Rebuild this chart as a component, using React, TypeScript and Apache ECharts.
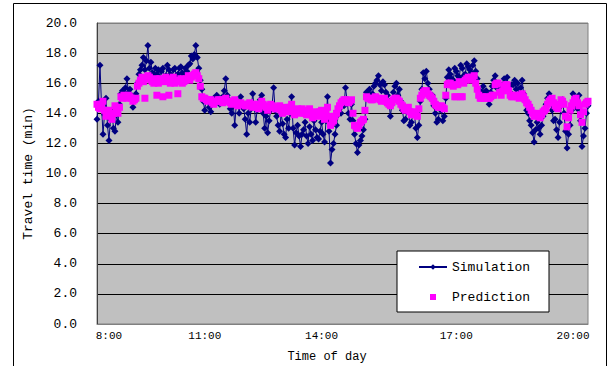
import React, { useEffect, useRef } from "react";
import * as echarts from "echarts";

const tickLabels = ["8:00", "11:00", "14:00", "17:00", "20:00"];
const tickIndex = [8, 72, 150, 240, 318];

const simulation = [
  13.6, 14.8, 17.2, 14.6, 12.6, 13.9, 15.0, 13.2, 12.2, 13.6, 14.2, 13.0, 12.8, 13.9, 13.4, 14.6, 15.3, 15.5, 15.4, 15.7,
  16.3, 15.4, 15.6, 15.2, 14.4, 14.9, 15.3, 16.0, 16.6, 16.9, 17.2, 17.7, 16.9, 17.5, 18.5, 17.0, 17.4, 16.7, 16.6, 17.0,
  16.6, 16.9, 16.2, 16.8, 17.0, 16.4, 16.5, 17.2, 16.9, 16.6, 16.3, 16.9, 17.0, 16.5, 16.6, 17.0, 17.1, 16.7, 16.5, 17.0,
  16.8, 17.2, 17.3, 17.8, 17.6, 17.9, 18.5, 17.7, 17.0, 16.2, 15.6, 14.8, 14.2, 15.0, 14.8, 14.4, 14.1, 14.6, 15.0, 14.8,
  15.2, 14.9, 14.6, 15.0, 15.1, 15.5, 16.3, 15.2, 14.9, 14.3, 14.0, 14.7, 13.2, 14.5, 14.8, 14.0, 15.1, 14.6, 14.3, 13.6,
  12.6, 14.0, 13.4, 14.3, 15.3, 14.5, 13.4, 14.2, 14.5, 14.9, 15.2, 14.0, 13.0, 13.8, 12.7, 13.5, 14.2, 14.6, 15.7, 14.2,
  13.8, 13.2, 12.8, 14.0, 13.3, 12.6, 12.4, 13.6, 13.0, 14.0, 15.1, 13.0, 11.9, 12.7, 13.2, 12.5, 11.8, 12.6, 12.9, 13.4,
  12.5, 12.0, 13.1, 12.6, 12.2, 13.5, 12.9, 12.4, 12.3, 12.8, 13.4, 12.6, 12.1, 13.5, 15.1, 12.8, 10.7, 11.6, 12.0, 12.6,
  13.2, 13.9, 14.3, 14.0, 14.8, 14.5, 15.7, 14.9, 14.0, 13.6, 14.6, 13.5, 12.6, 12.0, 11.4, 11.9, 12.2, 12.5, 12.9, 13.6,
  15.4, 15.0, 15.6, 15.2, 15.3, 15.8, 16.0, 16.2, 16.5, 15.9, 15.5, 16.1, 15.9, 15.4, 15.2, 14.8, 13.8, 14.6, 15.4, 15.8,
  16.0, 15.2, 15.6, 14.8, 14.2, 13.5, 13.6, 14.1, 14.3, 13.2, 13.4, 13.9, 14.0, 13.0, 12.4, 13.2, 14.8, 15.6, 16.7, 16.3,
  16.8, 16.0, 15.6, 15.0, 15.2, 14.5, 14.0, 13.4, 13.6, 14.4, 14.2, 13.5, 13.8, 15.0, 16.4, 16.9, 16.6, 16.3, 16.2, 17.0,
  16.8, 16.5, 16.4, 17.2, 17.0, 16.5, 16.6, 17.3, 17.1, 16.9, 16.7, 17.2, 17.5, 16.8, 16.3, 15.6, 15.2, 15.4, 15.8, 15.3,
  15.5, 15.0, 14.6, 15.4, 15.8, 16.2, 16.5, 15.7, 16.0, 15.4, 15.6, 15.9, 16.3, 15.8, 16.4, 15.6, 15.4, 15.9, 15.9, 16.2,
  15.6, 16.0, 15.2, 15.7, 16.2, 15.3, 14.8, 14.2, 14.0, 13.5, 13.2, 12.7, 12.1, 12.9, 13.4, 13.0, 12.6, 13.2, 13.8, 14.3,
  14.6, 15.0, 15.3, 14.7, 14.2, 13.5, 13.6, 12.9, 12.4, 13.4, 14.5, 14.9, 14.0, 12.8, 11.7, 12.6, 13.2, 14.2, 15.3, 14.6,
  14.8, 14.3, 15.2, 13.5, 11.8, 12.5, 13.0, 14.0, 14.5,
];

const prediction = [
  14.6, 14.4, 14.3, 14.6, 14.8, 14.2, 13.8, 14.0, 14.2, 13.9, 13.6, 14.0, 14.5, 14.3, 14.0, 14.4, 15.1, 15.0, 15.2, 15.1,
  15.0, 15.2, 15.1, 15.0, 14.8, 14.9, 15.0, 15.8, 16.0, 16.2, 16.4, 16.1, 15.0, 16.3, 16.5, 16.4, 16.2, 16.1, 16.0, 16.3,
  15.2, 16.0, 16.3, 16.2, 15.1, 16.1, 16.4, 16.3, 15.2, 16.0, 16.2, 16.4, 16.0, 16.1, 15.3, 16.2, 16.3, 16.0, 16.1, 16.2,
  16.3, 16.5, 16.2, 16.4, 16.5, 16.6, 16.7, 16.5, 16.3, 15.8, 15.1, 15.0, 15.0, 14.9, 14.8, 14.9, 14.9, 14.7, 14.6, 14.8,
  14.8, 14.9, 14.9, 14.8, 14.7, 14.9, 15.0, 14.8, 14.8, 14.7, 14.6, 14.8, 14.9, 14.7, 14.5, 14.6, 14.7, 14.6, 14.6, 14.5,
  14.5, 14.6, 14.7, 14.5, 14.4, 14.6, 14.6, 14.4, 14.3, 14.5, 14.8, 14.6, 14.5, 14.4, 14.2, 14.4, 14.6, 14.5, 14.4, 14.3,
  14.3, 14.4, 14.5, 14.2, 14.0, 14.3, 14.4, 14.2, 14.1, 14.4, 14.6, 14.2, 13.9, 14.1, 14.3, 14.1, 14.0, 14.3, 14.2, 14.0,
  13.9, 14.1, 14.3, 13.9, 13.7, 14.0, 14.1, 13.9, 13.8, 14.1, 14.2, 13.9, 13.6, 14.0, 14.4, 13.8, 13.2, 13.4, 13.5, 13.8,
  14.0, 14.3, 14.5, 14.7, 14.8, 14.9, 14.9, 14.8, 14.7, 14.8, 14.9, 14.0, 13.2, 13.1, 13.0, 13.2, 13.4, 13.5, 13.6, 14.2,
  15.1, 15.0, 15.0, 14.9, 14.9, 15.0, 15.1, 15.0, 15.0, 14.9, 14.8, 14.9, 15.0, 14.8, 14.7, 14.6, 14.5, 14.7, 14.9, 15.0,
  15.0, 14.9, 14.8, 14.6, 14.5, 14.3, 14.2, 14.3, 14.4, 14.1, 13.9, 14.0, 14.1, 13.9, 13.8, 14.3, 15.0, 15.2, 15.4, 15.5,
  15.5, 15.3, 15.2, 15.1, 15.0, 14.8, 14.6, 14.5, 14.4, 14.4, 14.5, 14.4, 14.3, 15.2, 15.9, 16.0, 16.0, 15.9, 15.8, 15.1,
  15.1, 15.9, 16.1, 15.1, 15.1, 16.0, 16.2, 16.3, 16.4, 16.3, 16.2, 16.4, 16.5, 16.0, 15.6, 15.2, 15.0, 15.0, 15.1, 15.0,
  15.1, 15.0, 15.0, 15.1, 15.2, 15.2, 15.9, 16.0, 16.0, 15.4, 15.2, 15.5, 15.8, 15.9, 15.9, 15.5, 15.2, 15.1, 15.1, 15.2,
  15.2, 15.1, 15.0, 15.2, 15.3, 15.1, 14.9, 14.7, 14.6, 14.4, 14.2, 14.0, 13.8, 13.9, 14.0, 13.8, 13.7, 13.9, 14.1, 14.2,
  14.3, 14.6, 14.8, 14.9, 15.0, 14.7, 14.5, 14.4, 14.3, 14.6, 14.9, 14.8, 14.6, 13.8, 13.1, 13.7, 14.2, 14.5, 14.7, 14.9,
  15.0, 14.7, 14.5, 13.9, 13.4, 14.1, 14.6, 14.7, 14.8,
];

const categories = simulation.map((_, i) => String(i));

const FONT = "'Liberation Mono', 'DejaVu Sans Mono', monospace";
const SMALL_SQUARE = "path://M0,0L0.01,0M11,0.5L17,0.5L17,6.5L11,6.5ZM28,7L27.99,7";

export default function App() {
  const ref = useRef<HTMLDivElement>(null);

  useEffect(() => {
    if (!ref.current) return;
    const chart = echarts.init(ref.current, undefined, { renderer: "svg" });
    const splitColors = ["#808080", "#000", "#000", "#000", "#000", "#000", "#000", "#000", "#000", "#000", "#808080"];
    chart.setOption({
      animation: false,
      backgroundColor: "#fff",
      grid: {
        left: 97,
        top: 23,
        right: 27,
        bottom: 42,
        show: true,
        backgroundColor: "#c0c0c0",
        borderColor: "#808080",
        borderWidth: 1,
        containLabel: false,
        outerBoundsMode: "none",
      },
      graphic: [
        {
          type: "rect",
          shape: { x: 13.5, y: 3.5, width: 593, height: 400 },
          style: { fill: "none", stroke: "#000", lineWidth: 1 },
          silent: true,
          z: -1,
        },
      ],
      legend: {
        left: 397,
        top: 251,
        orient: "vertical",
        backgroundColor: "#fff",
        borderColor: "#000",
        borderWidth: 1,
        borderRadius: 0,
        padding: [9, 19, 8, 21],
        itemWidth: 28,
        itemHeight: 7,
        itemGap: 16,
        selectedMode: false,
        textStyle: { fontFamily: FONT, fontSize: 13, color: "#000", lineHeight: 14 },
        data: [{ name: "Simulation" }, { name: "Prediction", icon: SMALL_SQUARE }],
      },
      xAxis: {
        type: "category",
        data: categories,
        boundaryGap: false,
        name: "Time of day",
        nameLocation: "middle",
        nameGap: 27,
        nameTextStyle: { fontFamily: FONT, fontSize: 12, color: "#000", padding: [0, 31, 0, 0] },
        axisLine: { show: true, lineStyle: { color: "#808080", width: 1 } },
        axisTick: { show: false },
        splitLine: { show: false },
        axisLabel: {
          interval: (index: number) => tickIndex.includes(index),
          formatter: (value: string) => {
            const k = tickIndex.indexOf(Number(value));
            return k >= 0 ? tickLabels[k] : "";
          },
          fontFamily: FONT,
          fontSize: 11,
          color: "#000",
          margin: 6,
        },
      },
      yAxis: {
        type: "value",
        min: 0,
        max: 20,
        interval: 2,
        name: "Travel time (min)",
        nameLocation: "middle",
        nameGap: 54,
        nameTextStyle: { fontFamily: FONT, fontSize: 13, color: "#000" },
        axisLine: { show: true, lineStyle: { color: "#404040", width: 1 } },
        axisTick: { show: false },
        splitLine: { show: true, lineStyle: { color: splitColors, width: 1 } },
        axisLabel: {
          formatter: (v: number) => v.toFixed(1),
          fontFamily: FONT,
          fontSize: 13,
          color: "#000",
          margin: 20,
        },
      },
      series: [
        {
          name: "Simulation",
          type: "line",
          data: simulation,
          symbol: "diamond",
          symbolSize: 7,
          showSymbol: true,
          showAllSymbol: true,
          lineStyle: { color: "#000080", width: 1 },
          itemStyle: { color: "#000080" },
          z: 2,
        },
        {
          name: "Prediction",
          type: "scatter",
          data: prediction,
          symbol: "rect",
          symbolSize: 7,
          itemStyle: { color: "#ff00ff", opacity: 1 },
          z: 3,
        },
      ],
    });
    return () => chart.dispose();
  }, []);

  return (
    <div
      ref={ref}
      style={{ position: "absolute", left: 0, top: 0, width: 615, height: 366 }}
    />
  );
}
